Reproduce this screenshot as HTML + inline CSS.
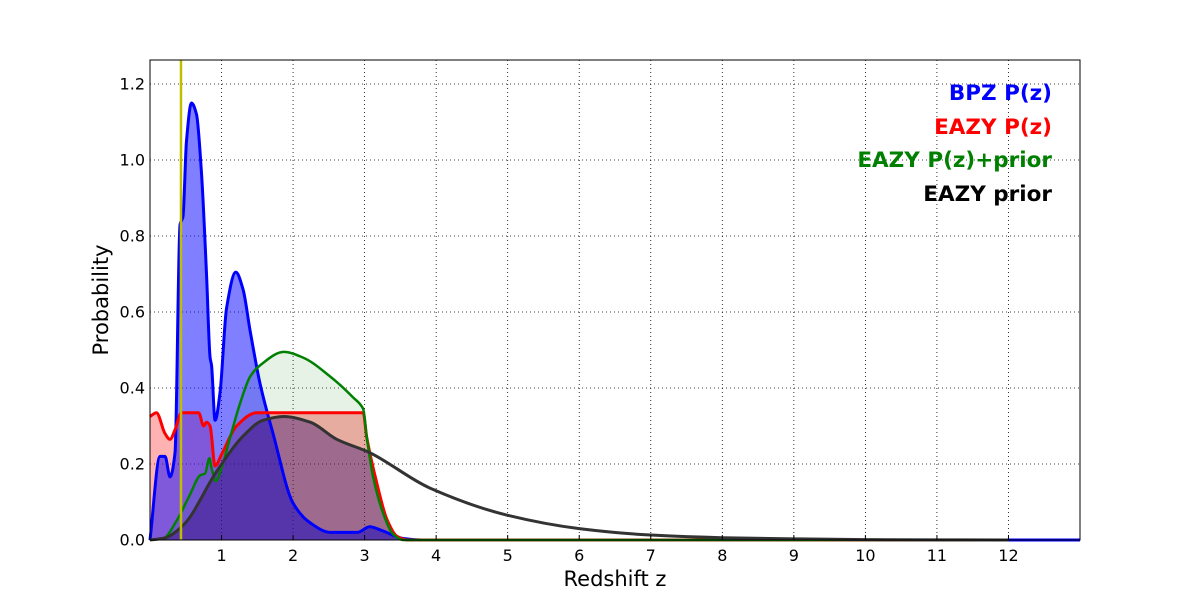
<!DOCTYPE html>
<html><head><meta charset="utf-8"><style>
body{margin:0;background:#fff;width:1200px;height:600px;overflow:hidden}
svg{font-family:"DejaVu Sans","Liberation Sans",sans-serif}
</style></head><body>
<svg id="chart" width="1200" height="600" viewBox="0 0 1200 600" xmlns="http://www.w3.org/2000/svg">
<defs><clipPath id="pdfclip"></clipPath></defs>
<g id="grid"></g>
<g id="fills"></g>
<g id="lines"></g>
<rect x="150" y="60" width="930" height="480" fill="none" stroke="#000" stroke-width="1"/>
<g id="ticks"></g>
<text x="615" y="586" font-size="21" text-anchor="middle">Redshift z</text>
<text x="108" y="300" font-size="21" text-anchor="middle" transform="rotate(-90 108 300)">Probability</text>
<g font-weight="bold" font-size="21.5" text-anchor="end">
<text x="1052" y="100" fill="#0000ff">BPZ P(z)</text>
<text x="1052" y="134" fill="#ff0000">EAZY P(z)</text>
<text x="1052" y="167" fill="#008000">EAZY P(z)+prior</text>
<text x="1052" y="201" fill="#000">EAZY prior</text>
</g>
</svg>
<script>
const xTicks=[1,2,3,4,5,6,7,8,9,10,11,12];
const yTicks=[0,0.2,0.4,0.6,0.8,1.0,1.2];
const bpzZ=[0,0.14,0.21,0.28,0.35,0.42,0.46,0.51,0.58,0.65,0.72,0.79,0.84,0.86,0.91,0.98,1.07,1.2,1.3,1.4,1.54,1.72,2.0,2.24,2.52,2.9,3.07,3.24,3.54,3.8,13];
const bpzP=[0,0.22,0.22,0.166,0.23,0.83,0.85,1.05,1.15,1.12,0.965,0.7,0.48,0.46,0.315,0.39,0.61,0.705,0.66,0.55,0.41,0.28,0.097,0.045,0.02,0.02,0.035,0.025,0.004,0,0];
const eazyZ=[0,0.09,0.21,0.28,0.35,0.44,0.68,0.75,0.79,0.84,0.91,1.0,1.21,1.49,2.98,3.03,3.17,3.31,3.45,3.6,12];
const eazyP=[0.325,0.335,0.28,0.265,0.29,0.335,0.335,0.3,0.31,0.3,0.195,0.225,0.3,0.335,0.335,0.27,0.15,0.055,0.01,0,0];
const combZ=[0,0.19,0.37,0.56,0.7,0.77,0.83,0.86,0.92,1.0,1.12,1.26,1.4,1.54,1.87,2.14,2.52,2.84,2.98,3.03,3.12,3.26,3.4,3.54,12];
const combP=[0,0.005,0.05,0.12,0.17,0.175,0.215,0.19,0.155,0.19,0.27,0.36,0.43,0.46,0.495,0.48,0.43,0.375,0.345,0.27,0.165,0.07,0.015,0,0];
const priorZ=[0,0.2,0.47,0.93,1.31,1.58,1.87,2.24,2.61,3.07,3.91,5,6,7,8,9,10,11,12];
const priorP=[0,0.005,0.04,0.18,0.275,0.315,0.325,0.31,0.265,0.23,0.137,0.065,0.03,0.013,0.006,0.003,0.001,0.0003,0];
const specZ=0.433;
const X=z=>150+z*930/13, Y=p=>540-p*380;
const NS='http://www.w3.org/2000/svg';
function mk(tag,attrs,parent){const e=document.createElementNS(NS,tag);for(const k in attrs)e.setAttribute(k,attrs[k]);parent.appendChild(e);return e;}
function path(zs,ps){const x=zs.map(X),y=ps.map(Y),n=x.length;const d0=[],m=[];
for(let i=0;i<n-1;i++)d0.push((y[i+1]-y[i])/(x[i+1]-x[i]));
for(let i=0;i<n;i++){if(i==0)m.push(d0[0]);else if(i==n-1)m.push(d0[n-2]);else if(d0[i-1]*d0[i]<=0)m.push(0);else m.push(2/(1/d0[i-1]+1/d0[i]));}
let d='M'+x[0]+','+y[0];
for(let i=0;i<n-1;i++){const h=(x[i+1]-x[i])/3;d+=' C'+(x[i]+h)+','+(y[i]+m[i]*h)+' '+(x[i+1]-h)+','+(y[i+1]-m[i+1]*h)+' '+x[i+1]+','+y[i+1];}
return d;}
const grid=document.getElementById('grid'),ticks=document.getElementById('ticks');
xTicks.forEach(v=>{const gl=mk('line',{x1:X(v),x2:X(v),y1:60,y2:540,stroke:'#000','stroke-width':0.8,'stroke-dasharray':'1,3'},grid);

const tk=mk('line',{x1:X(v),x2:X(v),y1:540,y2:535,stroke:'#000'},ticks);
const t=mk('text',{x:X(v),y:561,'font-size':16,'text-anchor':'middle'},ticks);t.textContent=v;
});
yTicks.forEach(v=>{if(v>0){const gl=mk('line',{x1:150,x2:1080,y1:Y(v),y2:Y(v),stroke:'#000','stroke-width':0.8,'stroke-dasharray':'1,3'},grid);
}
const t=mk('text',{x:145,y:Y(v)+5.5,'font-size':16,'text-anchor':'end'},ticks);t.textContent=v.toFixed(1);
});
const fills=document.getElementById('fills'),lines=document.getElementById('lines');
const clip=document.getElementById('pdfclip');
function area(zs,ps){return path(zs,ps)+' L'+X(zs[zs.length-1])+',540 L'+X(zs[0])+',540 Z';}
function fill(zs,ps,color,op,name,clipped){const e=mk('path',{d:area(zs,ps),fill:color,'fill-opacity':op},fills);
if(clipped)e.setAttribute('clip-path','url(#pdfclip)');
}
const c1=mk('path',{d:area(eazyZ,eazyP)},clip);
const c2=mk('path',{d:area(bpzZ,bpzP)},clip);
fill(eazyZ,eazyP,'#ff0000',0.3,'eazy-fill');
fill(combZ,combP,'#008000',0.1,'eazy-prior-combined-fill');
fill(bpzZ,bpzP,'#0000ff',0.5,'bpz-fill');
fill(priorZ,priorP,'#2a0070',0.38,'prior-fill',true);
function line(zs,ps,color,w,name){const e=mk('path',{d:path(zs,ps),fill:'none',stroke:color,'stroke-width':w,'stroke-linejoin':'round'},lines);
}
line(bpzZ,bpzP,'#0000ff',3,'bpz-line');
line(eazyZ,eazyP,'#ff0000',3,'eazy-line');
line(combZ,combP,'#008000',2.5,'eazy-prior-combined-line');
line(priorZ,priorP,'#333333',3,'prior-line');
const sl=mk('line',{x1:X(specZ),x2:X(specZ),y1:60,y2:540,stroke:'#bfbf00','stroke-width':2.5},lines);


</script>
</body></html>
